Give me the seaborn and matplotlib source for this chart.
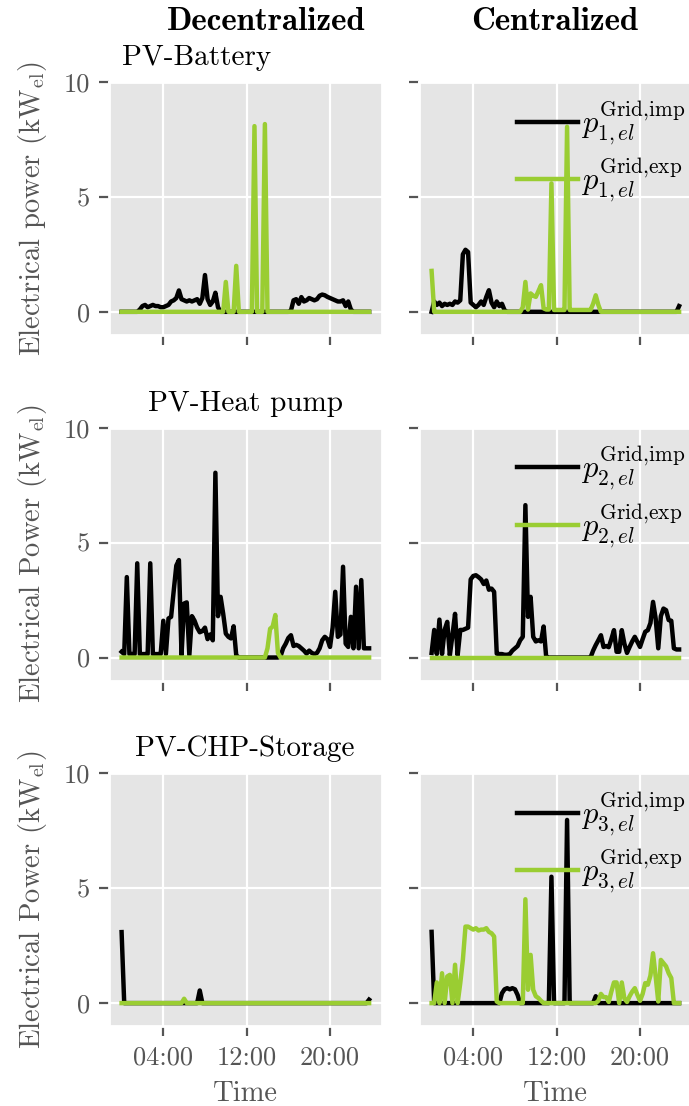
import numpy as np
import matplotlib
matplotlib.use("Agg")
import matplotlib.pyplot as plt
import seaborn as sns

# ---------------- data ----------------
time_h = np.arange(0, 24, 0.25)          # 15-min resolution, 96 steps
xtick_hours = [4, 12, 20]
xtick_labels = ["04:00", "12:00", "20:00"]
ytick_values = [0, 5, 10]
ytick_labels = ["0", "5", "10"]

col_titles = ["Decentralized", "Centralized"]
row_titles = ["PV-Battery", "PV-Heat pump", "PV-CHP-Storage"]
ylabels = [r"Electrical power (kW$_{\mathrm{el}}$)",
           r"Electrical Power (kW$_{\mathrm{el}}$)",
           r"Electrical Power (kW$_{\mathrm{el}}$)"]
xlabel = "Time"
legend_labels = [
    [r"$p^{\mathrm{Grid{,}imp}}_{1,el}$", r"$p^{\mathrm{Grid{,}exp}}_{1,el}$"],
    [r"$p^{\mathrm{Grid{,}imp}}_{2,el}$", r"$p^{\mathrm{Grid{,}exp}}_{2,el}$"],
    [r"$p^{\mathrm{Grid{,}imp}}_{3,el}$", r"$p^{\mathrm{Grid{,}exp}}_{3,el}$"],
]

dec_bat_imp = [0, 0, 0, 0, 0, 0, 0, 0.1, 0.25, 0.3, 0.2, 0.25,
               0.3, 0.25, 0.25, 0.2, 0.2, 0.25, 0.3, 0.45, 0.5, 0.6, 0.93, 0.55,
               0.5, 0.45, 0.5, 0.45, 0.5, 0.55, 0.35, 0.6, 1.6, 0.55, 0.3, 0.45,
               0.83, 0.2, 0, 0, 0, 0, 0, 0, 0, 0, 0, 0,
               0, 0, 0, 0, 0, 0, 0, 0, 0, 0, 0, 0,
               0, 0, 0, 0, 0, 0.05, 0.5, 0.55, 0.35, 0.64, 0.45, 0.5,
               0.6, 0.55, 0.5, 0.55, 0.7, 0.75, 0.72, 0.65, 0.6, 0.55, 0.5, 0.45,
               0.45, 0.5, 0.25, 0.45, 0.1, 0, 0, 0, 0, 0, 0, 0]
dec_bat_exp = [0, 0, 0, 0, 0, 0, 0, 0, 0, 0, 0, 0,
               0, 0, 0, 0, 0, 0, 0, 0, 0, 0, 0, 0,
               0, 0, 0, 0, 0, 0, 0, 0, 0, 0, 0, 0,
               0, 0, 0, 0, 1.3, 0, 0, 0, 2.0, 0, 0, 0,
               0, 0, 0, 8.08, 0, 0, 0, 8.17, 0, 0, 0, 0,
               0, 0, 0, 0, 0, 0, 0, 0, 0, 0, 0, 0,
               0, 0, 0, 0, 0, 0, 0, 0, 0, 0, 0, 0,
               0, 0, 0, 0, 0, 0, 0, 0, 0, 0, 0, 0]
cen_bat_imp = [0, 0.45, 0.3, 0.4, 0.25, 0.35, 0.3, 0.35, 0.3, 0.45, 0.4, 0.5,
               2.5, 2.7, 2.6, 0.4, 0.3, 0.2, 0.3, 0.45, 0.3, 0.65, 0.94, 0.4,
               0.2, 0.45, 0.25, 0.35, 0.07, 0, 0, 0, 0, 0, 0, 0,
               0, 0, 0, 0, 0, 0, 0, 0, 0, 0, 0, 0,
               0, 0, 0, 0, 0, 0, 0, 0, 0, 0, 0, 0,
               0, 0, 0, 0, 0, 0, 0, 0, 0, 0, 0, 0,
               0, 0, 0, 0, 0, 0, 0, 0, 0, 0, 0, 0,
               0, 0, 0, 0, 0, 0, 0, 0, 0, 0, 0, 0.25]
cen_bat_exp = [1.78, 0, 0, 0, 0, 0, 0, 0, 0, 0, 0, 0,
               0, 0, 0, 0, 0, 0, 0, 0, 0, 0, 0, 0,
               0, 0, 0, 0, 0, 0, 0, 0, 0, 0, 0, 0.2,
               1.3, 0.1, 0.8, 0.7, 0.65, 0.9, 1.16, 0.15, 0.1, 0.1, 5.59, 0.08,
               0.08, 0.08, 0.08, 0.08, 8.05, 0.08, 0.08, 0.08, 0.08, 0.08, 0.08, 0.08,
               0.08, 0.08, 0.35, 0.72, 0.3, 0, 0, 0, 0, 0, 0, 0,
               0, 0, 0, 0, 0, 0, 0, 0, 0, 0, 0, 0,
               0, 0, 0, 0, 0, 0, 0, 0, 0, 0, 0, 0]

dec_hp_imp = [0.25, 0.15, 3.5, 0.15, 0.15, 0.15, 4.1, 0.15, 0.15, 0.15, 0.15, 4.1,
              0.15, 0.15, 0.15, 0.15, 1.6, 0.15, 1.7, 1.77, 2.9, 4.0, 4.24, 0.1,
              2.35, 2.4, 0.1, 1.8, 1.6, 1.3, 1.1, 1.15, 1.3, 0.8, 1.0, 0.75,
              8.04, 1.8, 2.64, 1.9, 1.04, 0.9, 0.83, 1.36, 0.1, 0, 0, 0,
              0, 0, 0, 0, 0, 0, 0, 0, 0, 0, 0, 0,
              0, 0.05, 0.4, 0.6, 0.85, 0.97, 0.5, 0.55, 0.5, 0.4, 0.3, 0.17,
              0.3, 0.2, 0.15, 0.2, 0.4, 0.75, 0.9, 0.8, 0.46, 1.3, 2.86, 0.9,
              1.0, 3.95, 0.6, 0.46, 1.77, 0.4, 3.08, 0.4, 3.37, 0.4, 0.4, 0.4]
dec_hp_exp = [0, 0, 0, 0, 0, 0, 0, 0, 0, 0, 0, 0,
              0, 0, 0, 0, 0, 0, 0, 0, 0, 0, 0, 0,
              0, 0, 0, 0, 0, 0, 0, 0, 0, 0, 0, 0,
              0, 0, 0, 0, 0, 0, 0, 0, 0, 0, 0, 0,
              0, 0, 0, 0, 0, 0, 0, 0, 0.4, 1.25, 1.35, 1.85,
              0.2, 0, 0, 0, 0, 0, 0, 0, 0, 0, 0, 0,
              0, 0, 0, 0, 0, 0, 0, 0, 0, 0, 0, 0,
              0, 0, 0, 0, 0, 0, 0, 0, 0, 0, 0, 0]
cen_hp_imp = [0.2, 1.2, 0.15, 1.65, 0.15, 1.2, 1.55, 0.1, 0.97, 1.9, 0.1, 1.2,
              1.2, 1.25, 1.3, 3.4, 3.55, 3.58, 3.5, 3.4, 3.2, 3.35, 2.95, 3.0,
              2.86, 0.17, 0.15, 0.15, 0.12, 0.12, 0.15, 0.3, 0.4, 0.5, 0.75, 0.9,
              6.63, 1.77, 2.64, 0.9, 0.7, 0.75, 0.7, 1.35, 0, 0, 0, 0,
              0, 0, 0, 0, 0, 0, 0, 0, 0, 0, 0, 0,
              0, 0, 0.3, 0.54, 0.75, 0.97, 0.46, 0.5, 0.45, 0.8, 1.19, 0.25,
              0.25, 1.19, 0.6, 0.2, 0.46, 0.7, 0.9, 0.68, 0.46, 0.8, 1.12, 1.19,
              1.5, 2.42, 1.7, 0.4, 1.8, 2.13, 2.06, 1.63, 1.6, 0.4, 0.35, 0.35]
cen_hp_exp = [0, 0, 0, 0, 0, 0, 0, 0, 0, 0, 0, 0,
              0, 0, 0, 0, 0, 0, 0, 0, 0, 0, 0, 0,
              0, 0, 0, 0, 0, 0, 0, 0, 0, 0, 0, 0,
              0, 0, 0, 0, 0, 0, 0, 0, 0, 0, 0, 0,
              0, 0, 0, 0, 0, 0, 0, 0, 0, 0, 0, 0,
              0, 0, 0, 0, 0, 0, 0, 0, 0, 0, 0, 0,
              0, 0, 0, 0, 0, 0, 0, 0, 0, 0, 0, 0,
              0, 0, 0, 0, 0, 0, 0, 0, 0, 0, 0, 0]

dec_chp_imp = [3.09, 0, 0, 0, 0, 0, 0, 0, 0, 0, 0, 0,
               0, 0, 0, 0, 0, 0, 0, 0, 0, 0, 0, 0,
               0, 0, 0, 0, 0, 0, 0.55, 0, 0, 0, 0, 0,
               0, 0, 0, 0, 0, 0, 0, 0, 0, 0, 0, 0,
               0, 0, 0, 0, 0, 0, 0, 0, 0, 0, 0, 0,
               0, 0, 0, 0, 0, 0, 0, 0, 0, 0, 0, 0,
               0, 0, 0, 0, 0, 0, 0, 0, 0, 0, 0, 0,
               0, 0, 0, 0, 0, 0, 0, 0, 0, 0, 0, 0.15]
dec_chp_exp = [0, 0, 0, 0, 0, 0, 0, 0, 0, 0, 0, 0,
               0, 0, 0, 0, 0, 0, 0, 0, 0, 0, 0, 0,
               0.19, 0, 0, 0, 0, 0, 0, 0, 0, 0, 0, 0,
               0, 0, 0, 0, 0, 0, 0, 0, 0, 0, 0, 0,
               0, 0, 0, 0, 0, 0, 0, 0, 0, 0, 0, 0,
               0, 0, 0, 0, 0, 0, 0, 0, 0, 0, 0, 0,
               0, 0, 0, 0, 0, 0, 0, 0, 0, 0, 0, 0,
               0, 0, 0, 0, 0, 0, 0, 0, 0, 0, 0, 0]
cen_chp_imp = [3.1, 0, 0, 0, 0, 0, 0, 0, 0, 0, 0, 0,
               0, 0, 0, 0, 0, 0, 0, 0, 0, 0, 0, 0,
               0, 0, 0, 0.43, 0.6, 0.65, 0.6, 0.65, 0.6, 0.36, 0, 0,
               0, 0, 0, 0, 0, 0, 0, 0, 0, 0, 5.5, 0,
               0, 0, 0, 0, 7.97, 0, 0, 0, 0, 0, 0, 0,
               0, 0, 0, 0.3, 0, 0, 0, 0, 0, 0, 0, 0,
               0, 0, 0, 0, 0, 0, 0, 0, 0, 0, 0, 0,
               0, 0, 0, 0, 0, 0, 0, 0, 0, 0, 0, 0]
cen_chp_exp = [0, 0, 0.9, 0, 1.3, 0, 1.16, 1.23, 0, 1.67, 0, 0.87,
               1.88, 3.33, 3.33, 3.26, 3.2, 3.26, 3.16, 3.2, 3.2, 3.26, 3.1, 3.04,
               2.9, 0.07, 0, 0, 0, 0, 0, 0, 0, 0, 0, 0,
               4.52, 0.58, 2.1, 0.58, 0.3, 0.22, 0.1, 0, 0, 0, 0, 0,
               0, 0, 0, 0, 0, 0, 0, 0, 0, 0, 0, 0,
               0, 0, 0, 0, 0.1, 0.4, 0.26, 0.26, 0.05, 0.5, 0.9, 0.9,
               0, 0.9, 0.2, 0.05, 0.3, 0.5, 0.65, 0.36, 0.1, 0.4, 0.87, 0.8,
               1.2, 2.17, 1.16, 0.07, 1.88, 1.74, 1.6, 1.3, 1.09, 0, 0, 0]

panels = [
    [(dec_bat_imp, dec_bat_exp), (cen_bat_imp, cen_bat_exp)],
    [(dec_hp_imp, dec_hp_exp), (cen_hp_imp, cen_hp_exp)],
    [(dec_chp_imp, dec_chp_exp), (cen_chp_imp, cen_chp_exp)],
]

# ---------------- style ----------------
plt.style.use("ggplot")
plt.rcParams.update({
    "font.family": "cmr10",
    "mathtext.fontset": "cm",
    "axes.formatter.use_mathtext": True,
    "axes.unicode_minus": False,
})

IMP_COLOR = "black"
EXP_COLOR = "#9ACD32"
GRAY = "#555555"
LW = 1.6

W, H = 689, 1106
fig = plt.figure(figsize=(W / 200, H / 200), dpi=200)

col_left = [109.2, 419.2]
ax_w = 272.3
row_top = [82.0, 427.7, 773.3]
ax_h = 252.8

for r in range(3):
    for c in range(2):
        ax = fig.add_axes([col_left[c] / W, 1 - (row_top[r] + ax_h) / H,
                           ax_w / W, ax_h / H])
        imp, exp = panels[r][c]
        sns.lineplot(x=time_h, y=imp, ax=ax, color=IMP_COLOR, linewidth=LW,
                     legend=False)
        sns.lineplot(x=time_h, y=exp, ax=ax, color=EXP_COLOR, linewidth=LW,
                     legend=False)
        ax.set_xlim(-1.19, 24.94)
        ax.set_ylim(-1, 10)
        ax.set_xticks(xtick_hours)
        ax.set_yticks(ytick_values)
        ax.tick_params(axis="both", colors=GRAY, labelsize=9.5)
        if r == 2:
            ax.set_xticklabels(xtick_labels)
            ax.set_xlabel(xlabel, fontsize=10.3, color=GRAY)
        else:
            ax.set_xticklabels([])
            ax.set_xlabel("")
        if c == 0:
            ax.set_yticklabels(ytick_labels)
            ax.set_ylabel(ylabels[r], fontsize=10.3, color=GRAY)
            ax.yaxis.set_label_coords(-0.222, 0.5)
        else:
            ax.set_yticklabels([])
            ax.set_ylabel("")
            lines = ax.get_lines()
            ax.legend(lines[:2], legend_labels[r], loc="upper left",
                      bbox_to_anchor=(0.359, 0.933), frameon=False,
                      fontsize=11, handlelength=2.0, handletextpad=0.1,
                      borderpad=0, borderaxespad=0, labelspacing=0.32)

# column titles
fig.text(266 / W, 1 - 29.5 / H, col_titles[0], ha="center", va="baseline",
         fontfamily="cmb10", fontsize=11.9, color="black")
fig.text(554.5 / W, 1 - 29.5 / H, col_titles[1], ha="center", va="baseline",
         fontfamily="cmb10", fontsize=11.9, color="black")
# row titles
fig.text(196.5 / W, 1 - 65 / H, row_titles[0], ha="center", va="baseline",
         fontsize=10.5, color="black")
fig.text(245 / W, 1 - 410.7 / H, row_titles[1], ha="center", va="baseline",
         fontsize=10.5, color="black")
fig.text(245 / W, 1 - 756 / H, row_titles[2], ha="center", va="baseline",
         fontsize=10.5, color="black")

fig.savefig("out.png", dpi=200)
